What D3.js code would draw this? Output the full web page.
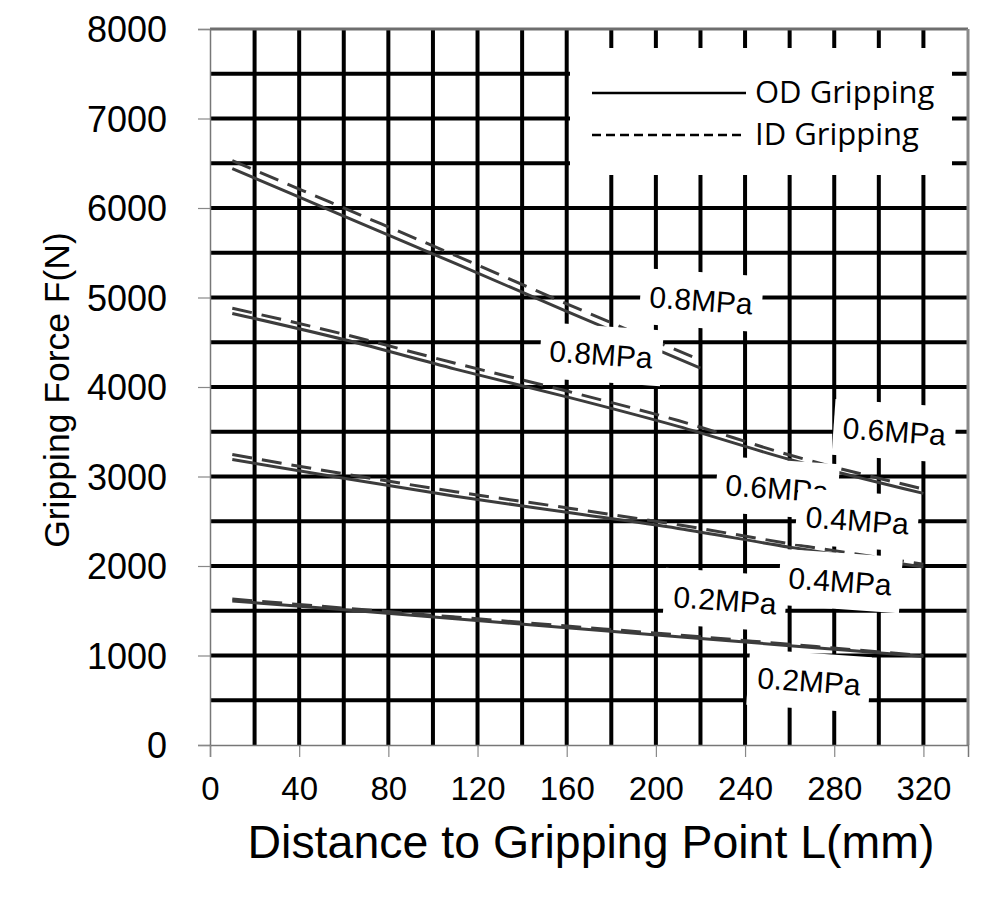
<!DOCTYPE html>
<html>
<head>
<meta charset="utf-8">
<script src="https://cdn.jsdelivr.net/npm/d3@7"></script>
<style>
  html, body { margin: 0; padding: 0; background: #fff; }
  svg { display: block; }
</style>
</head>
<body>
<svg id="chart" width="1000" height="900"></svg>
<script>
// ---- data ----
const xTicks = [0, 40, 80, 120, 160, 200, 240, 280, 320];
const yTicks = [0, 1000, 2000, 3000, 4000, 5000, 6000, 7000, 8000];
const xGrid = [20, 40, 60, 80, 100, 120, 140, 160, 180, 200, 220, 240, 260, 280, 300, 320];
const yGrid = [500, 1000, 1500, 2000, 2500, 3000, 3500, 4000, 4500, 5000, 5500, 6000, 6500, 7000, 7500];

const dist08 = [10, 60, 110, 160, 220];
const od08 = [6440, 5910, 5380, 4845, 4210];
const id08 = [6530, 6000, 5470, 4930, 4300];

const dist = [10, 60, 110, 160, 210, 260, 320];
const od06 = [4822, 4530, 4200, 3890, 3560, 3190, 2811];
const id06 = [4880, 4590, 4265, 3955, 3625, 3240, 2860];
const od04 = [3190, 2980, 2780, 2600, 2420, 2210, 1990];
const id04 = [3245, 3030, 2830, 2650, 2460, 2250, 2020];
const od02 = [1610, 1510, 1410, 1310, 1210, 1110, 990];
const id02 = [1630, 1530, 1430, 1330, 1230, 1125, 1000];

// pressure labels, anchored in data units (mm, N)
const labelText = ["0.8MPa", "0.8MPa", "0.6MPa", "0.6MPa", "0.4MPa", "0.4MPa", "0.2MPa", "0.2MPa"];
const labelX = [220.3, 175.4, 307.0, 254.4, 290.3, 282.6, 231.0, 268.7];
const labelY = [4971, 4368, 3507, 2871, 2513, 1832, 1620, 715];

const legendNames = ["OD Gripping", "ID Gripping"];

// ---- chart ----
const svg = d3.select("#chart");
const x = d3.scaleLinear().domain([0, 340]).range([210, 968]);
const y = d3.scaleLinear().domain([0, 8000]).range([745, 29]);

// grid
svg.append("g").selectAll("line").data(yGrid).join("line")
  .attr("x1", x(0)).attr("x2", x(340))
  .attr("y1", d => y(d)).attr("y2", d => y(d))
  .attr("stroke", "#000").attr("stroke-width", 4);
svg.append("g").selectAll("line").data(xGrid).join("line")
  .attr("x1", d => x(d)).attr("x2", d => x(d))
  .attr("y1", y(0)).attr("y2", y(8000))
  .attr("stroke", "#000").attr("stroke-width", 4);

// frame: top & right grey borders
svg.append("line").attr("x1", x(0)).attr("x2", x(340)).attr("y1", y(8000)).attr("y2", y(8000))
  .attr("stroke", "#6e6e6e").attr("stroke-width", 3);
svg.append("line").attr("x1", x(340)).attr("x2", x(340)).attr("y1", y(8000)).attr("y2", y(0))
  .attr("stroke", "#8a8a8a").attr("stroke-width", 3);

// axes
const yAxis = d3.axisLeft(y).tickValues(yTicks).tickSize(12).tickPadding(30).tickFormat(d3.format("d"));
const gy = svg.append("g").attr("transform", `translate(${x(0)},0)`).call(yAxis);
gy.select(".domain").attr("stroke", "#777").attr("stroke-width", 1.5);
gy.selectAll(".tick line").attr("stroke", "#888").attr("stroke-width", 1.2);
gy.selectAll(".tick text").attr("font-family", "Liberation Sans, Arial, sans-serif")
  .attr("font-size", 36).attr("fill", "#000").attr("x", -43).attr("dy", "0.36em");

const xAxis = d3.axisBottom(x).tickValues(xTicks).tickSize(12).tickPadding(22).tickFormat(d3.format("d"));
const gx = svg.append("g").attr("transform", `translate(0,${y(0)})`).call(xAxis);
gx.select(".domain").attr("stroke", "#777").attr("stroke-width", 1.5);
gx.selectAll(".tick line").attr("stroke", "#888").attr("stroke-width", 1.2);
gx.selectAll(".tick text").attr("font-family", "Liberation Sans, Arial, sans-serif")
  .attr("font-size", 33).attr("fill", "#000").attr("y", 32).attr("dy", "0.71em");

// axis titles
svg.append("text").attr("x", 591).attr("y", 858).attr("text-anchor", "middle")
  .attr("font-family", "Liberation Sans, Arial, sans-serif").attr("font-size", 46)
  .attr("textLength", 687).attr("lengthAdjust", "spacingAndGlyphs")
  .text("Distance to Gripping Point L(mm)");
svg.append("text").attr("transform", "translate(69,390) rotate(-90)").attr("text-anchor", "middle")
  .attr("font-family", "Liberation Sans, Arial, sans-serif").attr("font-size", 35.5)
  .text("Gripping Force F(N)");

// series
const series = [
  { xs: dist08, ys: od08, dash: null },
  { xs: dist08, ys: id08, dash: "20,10" },
  { xs: dist, ys: od06, dash: null },
  { xs: dist, ys: id06, dash: "20,10" },
  { xs: dist, ys: od04, dash: null },
  { xs: dist, ys: id04, dash: "20,10" },
  { xs: dist, ys: od02, dash: null },
  { xs: dist, ys: id02, dash: "20,10" }
];
const line = d3.line().x(d => x(d[0])).y(d => y(d[1])).curve(d3.curveMonotoneX);
svg.append("g").selectAll("path").data(series).join("path")
  .attr("d", s => line(s.xs.map((v, i) => [v, s.ys[i]])))
  .attr("fill", "none").attr("stroke", "#3c3c3c").attr("stroke-width", 3)
  .attr("stroke-dasharray", s => s.dash);

// pressure labels
const lab = svg.append("g").selectAll("g").data(labelText).join("g")
  .attr("transform", (d, i) => `translate(${x(labelX[i])},${y(labelY[i])}) rotate(4)`);
lab.append("rect").attr("x", -61).attr("y", -28).attr("width", 122).attr("height", 56).attr("fill", "#fff");
lab.append("text").attr("text-anchor", "middle").attr("dy", "0.36em")
  .attr("font-family", "Liberation Sans, Arial, sans-serif").attr("font-size", 30)
  .text(d => d);

// legend
const lg = svg.append("g");
lg.append("rect").attr("x", 570).attr("y", 48).attr("width", 382).attr("height", 127).attr("fill", "#fff");
legendNames.forEach((name, i) => {
  const ly = 93 + i * 42;
  lg.append("line").attr("x1", 592).attr("x2", 746).attr("y1", ly).attr("y2", ly)
    .attr("stroke", "#000").attr("stroke-width", 2.5)
    .attr("stroke-dasharray", i === 1 ? "9,5" : null);
  lg.append("text").attr("x", 755).attr("y", ly + 10)
    .attr("font-family", "Open Sans, Noto Sans, sans-serif").attr("font-size", 31)
    .text(name);
});
</script>
</body>
</html>
